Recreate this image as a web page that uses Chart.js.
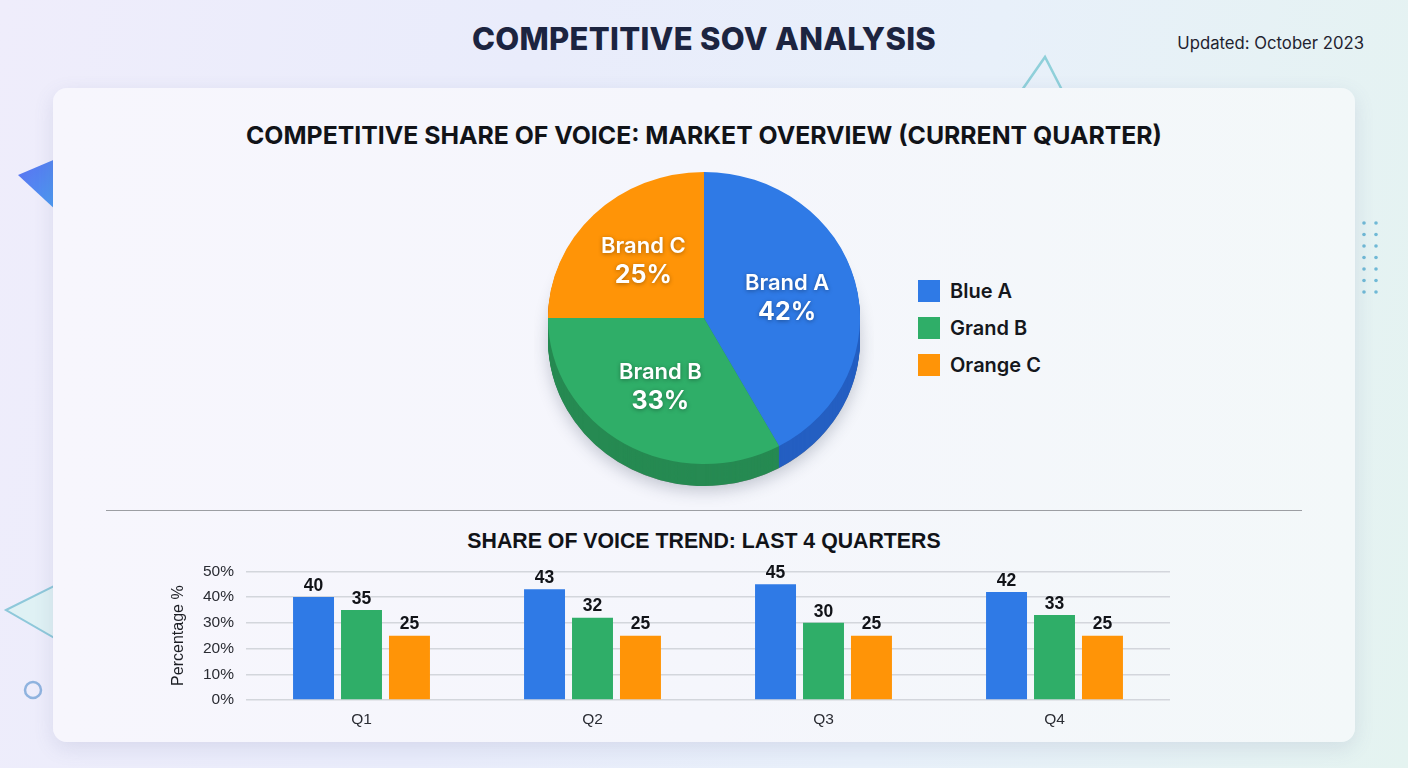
<!DOCTYPE html>
<html>
<head>
<meta charset="utf-8">
<script src="https://cdn.jsdelivr.net/npm/chart.js@4.4.1/dist/chart.umd.min.js"></script>
<style>
  html,body{margin:0;padding:0;}
  body{width:1408px;height:768px;overflow:hidden;position:relative;
    background:linear-gradient(100deg,#efedfb 0%,#e9ecfb 35%,#e8f0fa 65%,#e4f3f0 100%);
    font-family:"Inter","Liberation Sans",sans-serif;}
  .abs{position:absolute;}
  #mainTitle{left:0;width:1408px;top:20px;text-align:center;font-weight:800;font-size:31px;color:#1c2440;letter-spacing:0.3px;}
  #updated{right:44px;top:33px;font-size:16.7px;color:#1f2330;}
  #card{left:53px;top:88px;width:1302px;height:654px;border-radius:14px;
    background:linear-gradient(90deg,#f7f6fd 0%,#f5f6fc 50%,#f3f8f9 100%);
    box-shadow:0 6px 20px rgba(90,100,150,0.14);}
  #pieTitle{left:0;width:1408px;top:120px;text-align:center;font-weight:700;font-size:24.8px;color:#111318;}
  #divider{left:106px;top:510px;width:1196px;height:1px;background:#9c9ea3;}
  #barTitle{left:0;width:1408px;top:529px;text-align:center;font-weight:700;font-size:21.3px;color:#111318;font-family:"Liberation Sans",Arial,sans-serif;}
  #legend .item{position:absolute;left:0;display:flex;align-items:center;}
  #legend .sw{width:22px;height:22px;margin-right:10px;}
  #legend .tx{font-size:20px;font-weight:600;color:#15171c;}
</style>
</head>
<body>
<!-- decorations -->
<svg class="abs" style="left:0;top:0" width="1408" height="768">
  <defs>
    <linearGradient id="tg" x1="0" y1="0" x2="1" y2="1">
      <stop offset="0" stop-color="#5b6ff0"/><stop offset="1" stop-color="#4aa0f2"/>
    </linearGradient>
  </defs>
  <polygon points="18,175 58,158 58,212" fill="url(#tg)"/>
  <polyline points="1022,90 1045,57 1062,90" fill="none" stroke="#8fd0da" stroke-width="2.5"/>
  <polygon points="6,610 58,584 58,640" fill="#dff1f4" stroke="#8ec8da" stroke-width="2"/>
  <circle cx="33" cy="690" r="8" fill="none" stroke="#8fb3df" stroke-width="2.5"/>
  <g fill="#70b9d6">
    <circle cx="1364" cy="223" r="1.8"/><circle cx="1376" cy="223" r="1.8"/>
    <circle cx="1364" cy="234.5" r="1.8"/><circle cx="1376" cy="234.5" r="1.8"/>
    <circle cx="1364" cy="246" r="1.8"/><circle cx="1376" cy="246" r="1.8"/>
    <circle cx="1364" cy="257.5" r="1.8"/><circle cx="1376" cy="257.5" r="1.8"/>
    <circle cx="1364" cy="269" r="1.8"/><circle cx="1376" cy="269" r="1.8"/>
    <circle cx="1364" cy="280.5" r="1.8"/><circle cx="1376" cy="280.5" r="1.8"/>
    <circle cx="1364" cy="292" r="1.8"/><circle cx="1376" cy="292" r="1.8"/>
  </g>
</svg>
<div id="mainTitle" class="abs">COMPETITIVE SOV ANALYSIS</div>
<div id="updated" class="abs">Updated: October 2023</div>
<div id="card" class="abs"></div>
<div id="pieTitle" class="abs">COMPETITIVE SHARE OF VOICE: MARKET OVERVIEW (CURRENT QUARTER)</div>
<div class="abs" style="left:534px;top:138px;width:340px;height:372px;"><canvas id="pie" width="340" height="372"></canvas></div>
<div id="legend" class="abs" style="left:918px;top:279px;width:200px;height:110px;"></div>
<div id="divider" class="abs"></div>
<div id="barTitle" class="abs">SHARE OF VOICE TREND: LAST 4 QUARTERS</div>
<div class="abs" style="left:165px;top:550px;width:1005px;height:192px;"><canvas id="bar" width="1005" height="192"></canvas></div>

<script>
// ---- data ----
const pieLabels = ['Brand A', 'Brand B', 'Brand C'];
const pieValues = [42, 33, 25];
const legendNames = ['Blue A', 'Grand B', 'Orange C'];
const quarters = ['Q1', 'Q2', 'Q3', 'Q4'];
const blueA = [40, 43, 45, 42];
const grandB = [35, 32, 30, 33];
const orangeC = [25, 25, 25, 25];
const yTickValues = [0, 10, 20, 30, 40, 50];

// ---- styles ----
const faceColors = ['#2f7ae6', '#2fae68', '#ff9407'];
const sideColors = ['#245fc2', '#268a52', '#d9790a'];
const SQUASH = 146 / 156;
const DEPTH = 22;

Chart.defaults.animation = false;

// legend (HTML)
const lg = document.getElementById('legend');
legendNames.forEach((n, i) => {
  const d = document.createElement('div');
  d.className = 'item';
  d.style.top = (i * 37) + 'px';
  d.innerHTML = '<div class="sw" style="background:' + faceColors[i] + '"></div><div class="tx">' + n + '</div>';
  lg.appendChild(d);
});

const pie3d = {
  id: 'pie3d',
  beforeDatasetsDraw(chart) {
    const ctx = chart.ctx;
    const arcs = chart.getDatasetMeta(0).data;
    const cx = arcs[0].x, cy = arcs[0].y, R = arcs[0].outerRadius;
    ctx.save();
    ctx.translate(cx, cy); ctx.scale(1, SQUASH); ctx.translate(-cx, -cy);
    // soft shadow
    ctx.save();
    ctx.shadowColor = 'rgba(40,50,80,0.25)';
    ctx.shadowBlur = 16;
    ctx.shadowOffsetY = 5;
    ctx.beginPath();
    ctx.arc(cx, cy + DEPTH / SQUASH, R, 0, Math.PI * 2);
    ctx.fillStyle = '#888';
    ctx.fill();
    ctx.restore();
    for (let d = DEPTH; d >= 1; d--) {
      arcs.forEach((arc, i) => {
        const oy = arc.y + d / SQUASH;
        ctx.beginPath();
        ctx.moveTo(arc.x, oy);
        ctx.arc(arc.x, oy, arc.outerRadius, arc.startAngle, arc.endAngle);
        ctx.closePath();
        ctx.fillStyle = sideColors[i];
        ctx.fill();
      });
    }
    // squash transform stays active while the faces are drawn
  },
  afterDatasetsDraw(chart) {
    const ctx = chart.ctx;
    ctx.restore();
    const arcs = chart.getDatasetMeta(0).data;
    arcs.forEach((arc, i) => {
      const mid = (arc.startAngle + arc.endAngle) / 2;
      const r = arc.outerRadius * 0.55;
      const x = arc.x + Math.cos(mid) * r;
      const y = arc.y + Math.sin(mid) * r * SQUASH;
      ctx.save();
      ctx.fillStyle = '#ffffff';
      ctx.textAlign = 'center';
      ctx.textBaseline = 'middle';
      ctx.shadowColor = 'rgba(0,0,0,0.35)';
      ctx.shadowBlur = 4;
      ctx.shadowOffsetY = 1;
      ctx.font = '600 22px Inter, sans-serif';
      ctx.fillText(pieLabels[i], x, y - 14.5);
      ctx.font = '700 25px Inter, sans-serif';
      ctx.fillText(pieValues[i] + '%', x, y + 14.5);
      ctx.restore();
    });
  }
};

new Chart(document.getElementById('pie'), {
  type: 'pie',
  data: {
    labels: pieLabels,
    datasets: [{ data: pieValues, backgroundColor: faceColors, borderWidth: 0, clip: false }]
  },
  options: {
    responsive: false,
    layout: { padding: { left: 14, right: 14, top: 24, bottom: 36 } },
    plugins: { legend: { display: false }, tooltip: { enabled: false } }
  },
  plugins: [pie3d]
});

const barLabels = {
  id: 'barLabels',
  afterDatasetsDraw(chart) {
    const ctx = chart.ctx;
    ctx.save();
    ctx.fillStyle = '#111318';
    ctx.font = 'bold 17.5px "Liberation Sans", Arial, sans-serif';
    ctx.textAlign = 'center';
    ctx.textBaseline = 'middle';
    chart.data.datasets.forEach((ds, di) => {
      chart.getDatasetMeta(di).data.forEach((bar, j) => {
        ctx.fillText(String(ds.data[j]), bar.x, bar.y - 11);
      });
    });
    ctx.restore();
  }
};

const tickFont = { family: '"Liberation Sans", Arial, sans-serif', size: 15.5 };
new Chart(document.getElementById('bar'), {
  type: 'bar',
  data: {
    labels: quarters,
    datasets: [
      { label: legendNames[0], data: blueA, backgroundColor: faceColors[0] },
      { label: legendNames[1], data: grandB, backgroundColor: faceColors[1] },
      { label: legendNames[2], data: orangeC, backgroundColor: faceColors[2] }
    ]
  },
  options: {
    responsive: false,
    layout: { padding: { top: 10, left: 0, right: 0, bottom: 0 } },
    datasets: { bar: { categoryPercentage: 0.623, barPercentage: 0.854 } },
    plugins: { legend: { display: false }, tooltip: { enabled: false } },
    scales: {
      x: {
        grid: { display: false, drawTicks: false },
        border: { display: false },
        ticks: { color: '#2a2c33', font: tickFont, padding: 10 },
        afterFit(s) { s.height = 42; }
      },
      y: {
        min: 0, max: 50,
        afterBuildTicks(s) { s.ticks = yTickValues.map(v => ({ value: v })); },
        grid: { color: '#d3d6dc', lineWidth: 1.5, drawTicks: false },
        border: { display: false },
        ticks: { color: '#2a2c33', font: tickFont, padding: 12, callback: v => v + '%' },
        title: { display: true, text: 'Percentage %', color: '#1c1e24', font: { family: '"Liberation Sans", Arial, sans-serif', size: 16 }, padding: { top: 4, bottom: 0 } },
        afterFit(s) { s.width = 81; }
      }
    }
  },
  plugins: [barLabels]
});
</script>
</body>
</html>
